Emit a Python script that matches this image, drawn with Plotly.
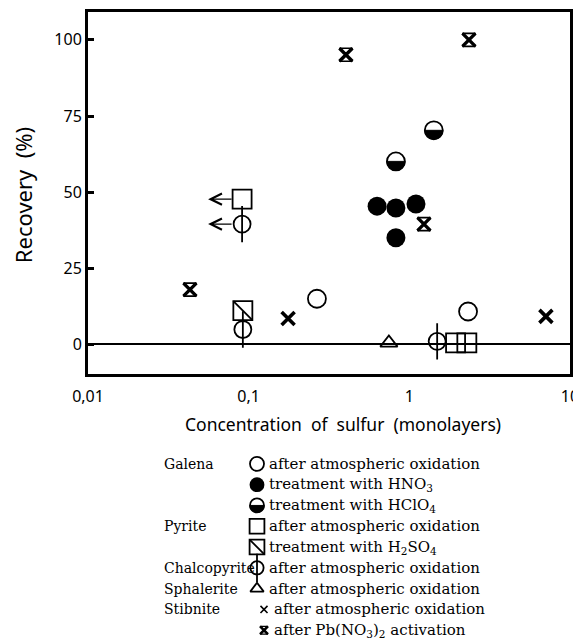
import math
import plotly.graph_objects as go

# ---------------- data ----------------
galena_atm_x = [0.266, 2.32]
galena_atm_y = [15.0, 10.8]
galena_hno3_x = [0.63, 0.825, 1.10, 0.825]
galena_hno3_y = [45.4, 44.8, 46.1, 35.0]
galena_hclo4_x = [0.825, 1.42]
galena_hclo4_y = [60.1, 70.3]
pyrite_atm_x = [0.091, 1.94, 2.28]
pyrite_atm_y = [47.7, 0.5, 0.5]
pyrite_atm_upper = [True, False, False]
pyrite_h2so4_x = [0.092]
pyrite_h2so4_y = [11.1]
chalco_x = [0.091, 0.092, 1.49]
chalco_y = [39.5, 4.9, 1.0]
chalco_upper = [True, False, False]
sphal_x = [0.746]
sphal_y = [0.5]
stib_atm_x = [0.176, 7.08]
stib_atm_y = [8.5, 9.2]
stib_pb_x = [0.0431, 0.403, 2.35, 1.233]
stib_pb_y = [18.0, 95.1, 100.0, 39.5]

x_tickvals = [0.01, 0.1, 1, 10]
x_ticktext = ["0,01", "0,1", "1", "10"]
y_tickvals = [0, 25, 50, 75, 100]

legend_minerals = ["Galena", "", "", "Pyrite", "", "Chalcopyrite", "Sphalerite", "Stibnite", ""]
legend_texts = ["after atmospheric oxidation", "treatment with HNO<sub>3</sub>",
                "treatment with HClO<sub>4</sub>", "after atmospheric oxidation",
                "treatment with H<sub>2</sub>SO<sub>4</sub>", "after atmospheric oxidation",
                "after atmospheric oxidation", "after atmospheric oxidation",
                "after Pb(NO<sub>3</sub>)<sub>2</sub> activation"]
legend_keys = ["gal_atm", "gal_hno3", "gal_hclo4", "pyr_atm", "pyr_h2so4",
               "chalco", "sphal", "stib_atm", "stib_pb"]

# ---------------- layout geometry (window pixels; page body has an 8px margin) ----------------
OFF = 8
WIN_W, WIN_H = 581, 644
W, H = WIN_W - OFF, WIN_H - OFF
PL, PR, PT, PB = 88, 570, 9, 640          # full plotting region in window pixels
ML, MR, MT, MB = PL - OFF, W - (PR - OFF), PT - OFF, H - (PB - OFF)
PW, PH = PR - PL, PB - PT
main_bottom_px = 373
dom_bottom = (PB - main_bottom_px) / PH
leg_dom_top = 0.30
BLACK = "black"


def px_x(wx):
    return (wx - PL) / PW


def px_y(wy):
    return (PB - wy) / PH


# marker styles: list of (symbol, size, linewidth) layers, plus half-disc flag
styles = {
    "gal_atm": ([("circle-open", 18, 1.8)], False),
    "gal_hno3": ([("circle", 19, 0)], False),
    "gal_hclo4": ([("circle-open", 18, 1.8)], True),
    "pyr_atm": ([("square-open", 19, 1.8)], False),
    "pyr_h2so4": ([("square-open", 19, 1.8), ("line-nw-open", 19, 1.8)], False),
    "chalco": ([("circle-open", 17, 1.8), ("line-ns-open", 26, 1.8)], False),
    "sphal": ([("triangle-up-open", 15, 1.8)], False),
    "stib_atm": ([("x-thin-open", 13, 3.6)], False),
    "stib_pb": ([("x-thin-open", 13, 3.4), ("hourglass-open", 13, 1.6)], False),
}
legend_styles = dict(styles)
legend_styles["stib_atm"] = ([("x-thin-open", 9, 1.6)], False)
legend_styles["stib_pb"] = ([("x-thin-open", 10, 2.6), ("hourglass-open", 10, 1.4)], False)

fig = go.Figure()
shapes = []
annotations = []


def half_disc(x, y, r, xref, yref):
    k = 0.5523 * r
    path = (f"M {-r},0 C {-r},{-k} {-k},{-r} 0,{-r} "
            f"C {k},{-r} {r},{-k} {r},0 Z")
    return dict(type="path", xref=xref, yref=yref, xsizemode="pixel", ysizemode="pixel",
                xanchor=x, yanchor=y, path=path,
                fillcolor=BLACK, line=dict(color=BLACK, width=1), layer="above")


def add_series(key, xs, ys, sty, xaxis="x", yaxis="y", scale=1.0):
    layers, half = sty[key]
    for sym, size, lw in layers:
        fig.add_trace(go.Scatter(
            x=xs, y=ys, mode="markers", xaxis=xaxis, yaxis=yaxis, showlegend=False,
            hoverinfo="skip",
            marker=dict(symbol=sym, size=size * scale, color=BLACK,
                        line=dict(color=BLACK, width=lw))))
    if half:
        size = layers[0][1] * scale
        for x, y in zip(xs, ys):
            shapes.append(half_disc(x, y, size / 2, xaxis, yaxis))


series = [
    ("gal_atm", galena_atm_x, galena_atm_y),
    ("gal_hno3", galena_hno3_x, galena_hno3_y),
    ("gal_hclo4", galena_hclo4_x, galena_hclo4_y),
    ("pyr_atm", pyrite_atm_x, pyrite_atm_y),
    ("pyr_h2so4", pyrite_h2so4_x, pyrite_h2so4_y),
    ("chalco", chalco_x, chalco_y),
    ("sphal", sphal_x, sphal_y),
    ("stib_atm", stib_atm_x, stib_atm_y),
    ("stib_pb", stib_pb_x, stib_pb_y),
]
for key, xs, ys in series:
    add_series(key, xs, ys, styles)

# "upper limit" arrows pointing to lower concentrations
for xs, ys, flags in [(pyrite_atm_x, pyrite_atm_y, pyrite_atm_upper),
                      (chalco_x, chalco_y, chalco_upper)]:
    for x, y, f in zip(xs, ys, flags):
        if f:
            annotations.append(dict(
                x=math.log10(x), y=y, xref="x", yref="y", text="", showarrow=True,
                ax=25, ay=0, xshift=-34, arrowhead=5, arrowsize=1.6, arrowwidth=1.4,
                arrowcolor=BLACK))

# ---------------- custom legend (below the chart) ----------------
row0, row_step = 463, 20.9
name_font = dict(family="DejaVu Serif", size=14, color=BLACK)
desc_font = dict(family="DejaVu Serif", size=15, color=BLACK)
for i, (mineral, txt, key) in enumerate(zip(legend_minerals, legend_texts, legend_keys)):
    ry = row0 + i * row_step
    is_x = key.startswith("stib")
    sx = 264 if is_x else 257
    tx = 272 if is_x else 267
    add_series(key, [sx], [ry], legend_styles, xaxis="x2", yaxis="y2", scale=0.78)
    if mineral:
        annotations.append(dict(x=162, y=ry, xref="x2", yref="y2", text=mineral,
                                showarrow=False, xanchor="left", yanchor="middle",
                                font=name_font))
    annotations.append(dict(x=tx, y=ry, xref="x2", yref="y2", text=txt,
                            showarrow=False, xanchor="left", yanchor="middle",
                            font=desc_font))

# axis titles
annotations.append(dict(x=px_x(343), y=px_y(423), xref="paper", yref="paper",
                        xanchor="center", yanchor="middle",
                        text="Concentration  of  sulfur  (monolayers)", showarrow=False,
                        font=dict(family="Noto Sans", size=17.5, color=BLACK)))
annotations.append(dict(x=px_x(23), y=px_y(193), xref="paper", yref="paper",
                        xanchor="center", yanchor="middle",
                        text="Recovery  (%)", showarrow=False, textangle=-90,
                        font=dict(family="Noto Sans", size=22, color=BLACK)))

y_top = (343 - PT) / 3.06
y_bot = (343 - main_bottom_px) / 3.06

fig.update_layout(
    width=W, height=H, margin=dict(l=ML, r=MR, t=MT, b=MB),
    paper_bgcolor="white", plot_bgcolor="white", showlegend=False,
    xaxis=dict(type="log", range=[-2, 1.0], domain=[0, 1], anchor="y",
               tickvals=x_tickvals, ticktext=x_ticktext, ticks="", showgrid=False,
               zeroline=False, showline=True, linewidth=3, linecolor=BLACK, mirror=True,
               tickfont=dict(family="Noto Sans", size=16, color=BLACK),
               ticklabelstandoff=6),
    yaxis=dict(range=[y_bot, y_top], domain=[dom_bottom, 1], anchor="x",
               tickvals=y_tickvals, ticks="inside", ticklen=6, tickwidth=2.5,
               tickcolor=BLACK, showgrid=False, zeroline=True, zerolinecolor=BLACK,
               zerolinewidth=1.5, showline=True, linewidth=3, linecolor=BLACK, mirror=True,
               tickfont=dict(family="Noto Sans", size=16, color=BLACK),
               ticklabelstandoff=0),
    xaxis2=dict(range=[PL, PR], domain=[0, 1], anchor="y2", visible=False),
    yaxis2=dict(range=[PB, PB - leg_dom_top * PH], domain=[0, leg_dom_top],
                anchor="x2", visible=False),
    shapes=shapes, annotations=annotations,
)

fig.write_html("out.html")
